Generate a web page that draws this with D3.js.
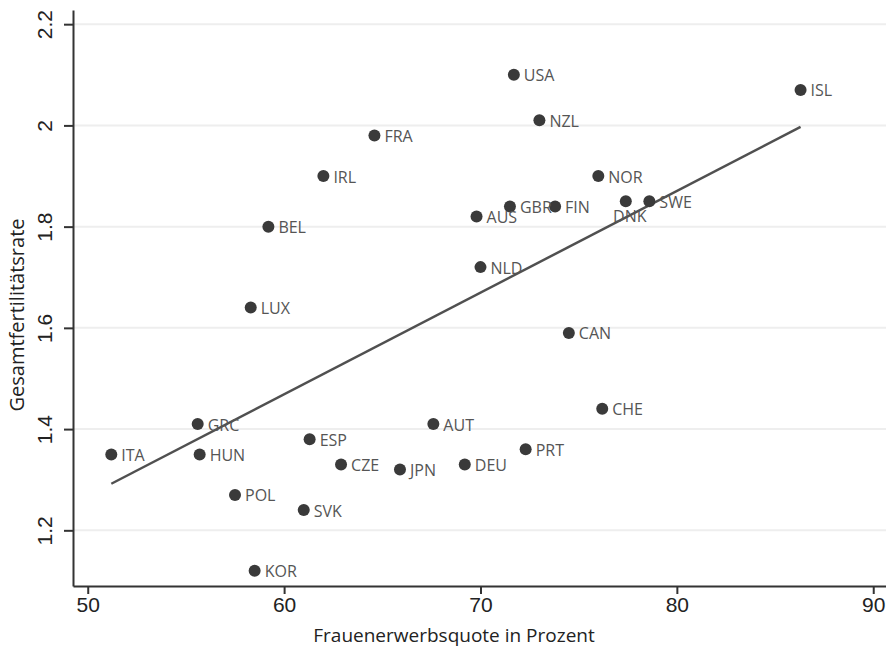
<!DOCTYPE html>
<html>
<head>
<meta charset="utf-8">
<style>
  body { margin: 0; background: #fff; }
  svg { font-family: "Open Sans", "Noto Sans", sans-serif; }
  .grid line { stroke: #eeeeee; stroke-width: 2px; }
  .axis path, .axis line { stroke: #333; stroke-width: 2px; }
  .axis text { fill: #222; font-size: 21px; }
  .lbl { fill: #555; font-size: 16px; }
</style>
</head>
<body>
<svg width="886" height="650"></svg>
<script src="https://d3js.org/d3.v7.min.js"></script>
<script>
  // country codes, female labour force participation (%), total fertility rate
  var countries = ["ITA","GRC","HUN","POL","KOR","SVK","ESP","CZE","JPN","AUT","DEU","PRT","CHE","CAN",
                   "USA","NZL","NOR","GBR","FIN","DNK","SWE","AUS","NLD","ISL","FRA","IRL","BEL","LUX"];
  var participation = [51.2, 55.6, 55.7, 57.5, 58.5, 61.0, 61.3, 62.9, 65.9, 67.6, 69.2, 72.3, 76.2, 74.5,
                       71.7, 73.0, 76.0, 71.5, 73.8, 77.4, 78.6, 69.8, 70.0, 86.3, 64.6, 62.0, 59.2, 58.3];
  var fertility = [1.35, 1.41, 1.35, 1.27, 1.12, 1.24, 1.38, 1.33, 1.32, 1.41, 1.33, 1.36, 1.44, 1.59,
                   2.10, 2.01, 1.90, 1.84, 1.84, 1.85, 1.85, 1.82, 1.72, 2.07, 1.98, 1.90, 1.80, 1.64];
  // linear fit line end points
  var fitX = [51.2, 86.3];
  var fitY = [1.292, 1.997];
  var xTicks = [50, 60, 70, 80, 90];
  var yTicks = [1.2, 1.4, 1.6, 1.8, 2, 2.2];
  var belowLabels = ["DNK"];

  var svg = d3.select("svg");
  var plotLeft = 73, plotRight = 886, plotTop = 10, plotBottom = 586;

  var x = d3.scaleLinear().domain([49.25, 90.65]).range([plotLeft, plotRight]);
  var y = d3.scaleLinear().domain([1.09, 2.228]).range([plotBottom, plotTop]);

  // grid
  svg.append("g")
    .attr("class", "grid")
    .selectAll("line")
    .data(yTicks)
    .enter().append("line")
      .attr("x1", plotLeft).attr("x2", plotRight)
      .attr("y1", function(d) { return y(d); })
      .attr("y2", function(d) { return y(d); });

  // axes
  var gx = svg.append("g")
    .attr("class", "axis")
    .attr("transform", "translate(0," + plotBottom + ")")
    .call(d3.axisBottom(x).tickValues(xTicks).tickSize(8).tickPadding(3).tickSizeOuter(0).tickFormat(d3.format("d")));

  var gy = svg.append("g")
    .attr("class", "axis")
    .attr("transform", "translate(" + plotLeft + ",0)")
    .call(d3.axisLeft(y).tickValues(yTicks).tickSize(9).tickSizeOuter(0).tickFormat(function(d) { return String(d); }));
  gy.selectAll("text")
    .attr("x", null).attr("dy", null)
    .attr("text-anchor", "middle")
    .attr("transform", "translate(-21,0) rotate(-90)");
  gx.selectAll(".domain, line").attr("stroke", "#333");
  gy.selectAll(".domain, line").attr("stroke", "#333");

  // axis titles
  svg.append("text")
    .attr("x", 454).attr("y", 642)
    .attr("text-anchor", "middle")
    .attr("fill", "#222")
    .style("font-size", "19px")
    .text("Frauenerwerbsquote in Prozent");
  svg.append("text")
    .attr("transform", "translate(24,315) rotate(-90)")
    .attr("text-anchor", "middle")
    .attr("fill", "#222")
    .style("font-size", "20px")
    .text("Gesamtfertilitätsrate");

  // fit line
  svg.append("line")
    .attr("x1", x(fitX[0])).attr("y1", y(fitY[0]))
    .attr("x2", x(fitX[1])).attr("y2", y(fitY[1]))
    .attr("stroke", "#505050")
    .attr("stroke-width", 2.5);

  var data = countries.map(function(c, i) { return { c: c, x: participation[i], y: fertility[i] }; });

  svg.append("g")
    .selectAll("circle")
    .data(data)
    .enter().append("circle")
      .attr("cx", function(d) { return x(d.x); })
      .attr("cy", function(d) { return y(d.y); })
      .attr("r", 6)
      .attr("fill", "#3a3a3a");

  svg.append("g")
    .selectAll("text")
    .data(data)
    .enter().append("text")
      .attr("class", "lbl")
      .attr("x", function(d) { return belowLabels.indexOf(d.c) >= 0 ? x(d.x) + 4 : x(d.x) + 10; })
      .attr("y", function(d) { return belowLabels.indexOf(d.c) >= 0 ? y(d.y) + 21 : y(d.y) + 6.5; })
      .attr("text-anchor", function(d) { return belowLabels.indexOf(d.c) >= 0 ? "middle" : "start"; })
      .text(function(d) { return d.c; });
</script>
</body>
</html>
